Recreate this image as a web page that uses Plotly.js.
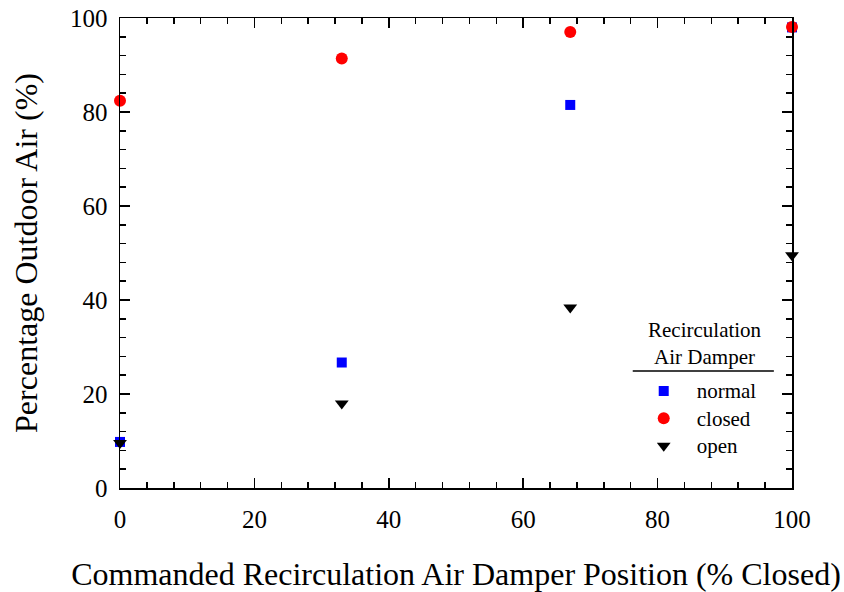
<!DOCTYPE html>
<html><head><meta charset="utf-8">
<script src="https://cdn.plot.ly/plotly-3.0.1.min.js"></script>
<style>html,body{margin:0;padding:0;background:#fff}</style>
</head><body>
<div id="chart" style="width:844px;height:592px"></div>
<script>
const positions = [0, 33, 67, 100];
const normalVals = [9.8, 26.7, 81.5, 98.0];
const closedVals = [82.4, 91.4, 97.0, 98.1];
const openVals = [9.6, 18.0, 38.4, 49.5];
const seriesNames = ['normal', 'closed', 'open'];
const legendTitle = 'Recirculation<br>Air Damper';
const xTitle = 'Commanded Recirculation Air Damper Position (% Closed)';
const yTitle = 'Percentage Outdoor Air (%)';

const font = 'Liberation Serif, Times New Roman, serif';
const big = s => '<span style="font-size:21px">' + s + '</span>';
const traces = [
  {x: positions, y: normalVals, name: big(seriesNames[0]), mode: 'markers', type: 'scatter',
   marker: {symbol: 'square', size: 10, color: '#0000ff'}, cliponaxis: false},
  {x: positions, y: closedVals, name: big(seriesNames[1]), mode: 'markers', type: 'scatter',
   marker: {symbol: 'circle', size: 12, color: '#ff0000'}, cliponaxis: false},
  {x: positions, y: openVals, name: big(seriesNames[2]), mode: 'markers', type: 'scatter',
   marker: {symbol: 'triangle-down', size: 12, color: '#000000'}, cliponaxis: false}
];
const axisCommon = {
  showgrid: false, zeroline: false, showline: true, linecolor: '#000', linewidth: 1.5,
  mirror: 'allticks', ticks: 'inside', ticklen: 10, tickwidth: 1.5, tickcolor: '#000',
  tickfont: {family: font, size: 25, color: '#000'},
  minor: {dtick: 4, ticks: 'inside', ticklen: 6, tickwidth: 1.5, tickcolor: '#000', showgrid: false}
};
const layout = {
  width: 844, height: 592,
  margin: {l: 120, r: 52, t: 18, b: 104},
  paper_bgcolor: '#fff', plot_bgcolor: '#fff',
  font: {family: font, color: '#000'},
  showlegend: true,
  xaxis: Object.assign({}, axisCommon, {range: [0, 100], dtick: 20, tick0: 0, ticklabelstandoff: 8,
    title: {text: xTitle, font: {family: font, size: 32, color: '#000'}, standoff: 32}}),
  yaxis: Object.assign({}, axisCommon, {range: [0, 100], dtick: 20, tick0: 0, ticklabelstandoff: 6,
    title: {text: yTitle, font: {family: font, size: 32, color: '#000'}, standoff: 23}}),
  legend: {
    x: 0.760, y: 0.246, xanchor: 'left', yanchor: 'top',
    bgcolor: 'rgba(0,0,0,0)', borderwidth: 0,
    font: {family: font, size: 18.7, color: '#000'},
    itemwidth: 56
  },
  annotations: [{text: legendTitle, xref: 'paper', yref: 'paper', x: 0.871, y: 0.307,
    xanchor: 'center', yanchor: 'middle', showarrow: false, align: 'center',
    font: {family: font, size: 21, color: '#000'}}],
  shapes: [{type: 'line', xref: 'paper', yref: 'paper', x0: 0.763, x1: 0.973, y0: 0.249, y1: 0.249,
    line: {color: '#000', width: 1.5}}]
};
Plotly.newPlot('chart', traces, layout, {displayModeBar: false, staticPlot: true});
</script>
</body></html>
